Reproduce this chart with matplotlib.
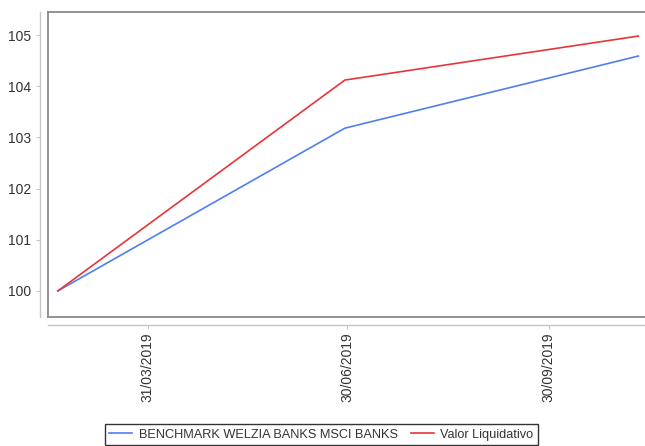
import matplotlib
matplotlib.use("Agg")
import matplotlib.pyplot as plt
import matplotlib.dates as mdates
import pandas as pd

# data
dates = pd.to_datetime(["2019-02-18", "2019-06-29", "2019-11-10"])
benchmark = [100.0, 103.18, 104.59]
valor_liquidativo = [100.0, 104.12, 104.98]
tick_dates = pd.to_datetime(["2019-03-31", "2019-06-30", "2019-09-30"])
tick_labels = ["31/03/2019", "30/06/2019", "30/09/2019"]
y_ticks = [100, 101, 102, 103, 104, 105]

plt.rcParams['font.family'] = ['Liberation Sans', 'DejaVu Sans']

fig = plt.figure(figsize=(6.45, 4.46), dpi=100)
ax = fig.add_axes([48 / 645, 1 - 317 / 446, 597 / 645, 305 / 446])

ax.plot(dates, benchmark, color='#4f7fee', lw=1.2,
        label='BENCHMARK WELZIA BANKS MSCI BANKS')
ax.plot(dates, valor_liquidativo, color='#e8353a', lw=1.2,
        label='Valor Liquidativo')

ax.set_xlim(pd.Timestamp("2019-02-13 12:00"), pd.Timestamp("2019-11-13"))
ax.set_ylim(99.49, 105.45)
ax.set_yticks(y_ticks)
ax.set_xticks(tick_dates)
ax.set_xticklabels(tick_labels)

# outer box of the plot area (left, top, bottom; right side runs off the image)
box = dict(transform=ax.transAxes, color='#8a8a8a', lw=1.3, clip_on=False)
ax.plot([0, 0], [0, 1], **box)
ax.plot([0, 1.01], [1, 1], **box)
ax.plot([0, 1.01], [0, 0], **box)

for s in ['top', 'right']:
    ax.spines[s].set_visible(False)
for s in ['left', 'bottom']:
    ax.spines[s].set_position(('outward', 6))
    ax.spines[s].set_color('#c4c4c4')
    ax.spines[s].set_linewidth(1.0)

ax.tick_params(axis='both', colors='#c4c4c4', labelcolor='#333333',
               labelsize=10, length=3, width=0.8)
ax.tick_params(axis='y', pad=3)
ax.tick_params(axis='x', pad=2, labelrotation=90)

leg = fig.legend(loc='lower center', bbox_to_anchor=(0.498, 0.002), ncol=2,
                 frameon=True, fancybox=False, fontsize=9.2, handlelength=1.8,
                 handletextpad=0.5, columnspacing=1.0, borderpad=0.35,
                 borderaxespad=0)
leg.get_frame().set_edgecolor('black')
leg.get_frame().set_linewidth(1.0)
for t in leg.get_texts():
    t.set_color('#333333')

fig.savefig('out.png', dpi=100)
